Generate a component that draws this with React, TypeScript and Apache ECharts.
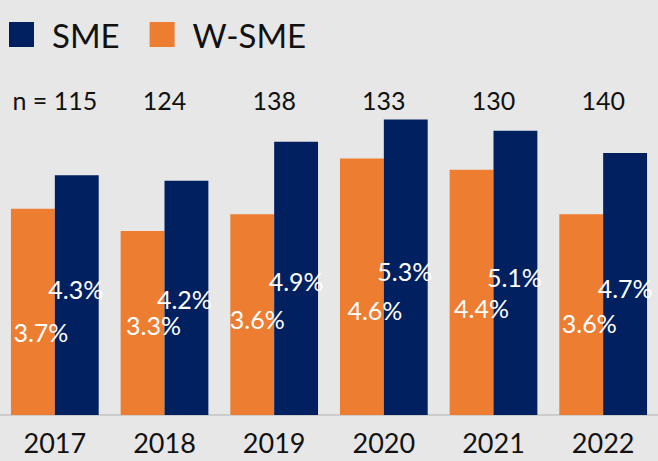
import React, { useEffect, useRef } from "react";
import * as echarts from "echarts";

const years = ["2017", "2018", "2019", "2020", "2021", "2022"];
const sampleSizes = ["n = 115", "124", "138", "133", "130", "140"];
const smeValues = [4.3, 4.2, 4.9, 5.3, 5.1, 4.7];
const wsmeValues = [3.7, 3.3, 3.6, 4.6, 4.4, 3.6];

// label offsets (styling) relative to bar centre
const smeLabelOffsets = [[-1, -6], [-2, 1], [0, 3], [-1, 4], [-1, 4], [0, 4]];
const wsmeLabelOffsets = [[8, 20], [11, 2], [5, 4], [13, 23], [10, 16], [8, 8]];

const FONT = "Lato, 'Open Sans', sans-serif";
const NAVY = "#002060";
const ORANGE = "#ED7D31";

export default function App() {
  const ref = useRef<HTMLDivElement>(null);
  useEffect(() => {
    if (!ref.current) return;
    const chart = echarts.init(ref.current, null, { renderer: "svg" });
    const labelBase = {
      show: true,
      position: "inside",
      color: "#ffffff",
      fontFamily: FONT,
      fontSize: 25,
      formatter: (p: any) => p.value.toFixed(1) + "%",
    };
    chart.setOption({
      animation: false,
      backgroundColor: "#e7e7e7",
      textStyle: { fontFamily: FONT },
      legend: {
        data: ["SME", "W-SME"],
        left: 9,
        top: 18,
        padding: 0,
        itemWidth: 25,
        itemHeight: 25,
        itemGap: 30,
        icon: "rect",
        textStyle: {
          fontFamily: FONT,
          fontSize: 33,
          color: "#111111",
          padding: [0, 0, 0, 13],
        },
      },
      grid: { left: -2.5, right: -5.5, top: 80.5, bottom: 46, containLabel: false },
      xAxis: [
        {
          type: "category",
          data: years,
          axisLine: { show: true, lineStyle: { color: "#cccccc", width: 2 } },
          axisTick: { show: false },
          axisLabel: {
            interval: 0,
            fontFamily: FONT,
            fontSize: 27,
            color: "#111111",
            margin: 14,
          },
        },
        {
          type: "category",
          data: sampleSizes,
          position: "top",
          offset: -40,
          axisLine: { show: false },
          axisTick: { show: false },
          axisLabel: {
            interval: 0,
            fontFamily: FONT,
            fontSize: 25,
            color: "#111111",
            margin: 8,
          },
        },
      ],
      yAxis: {
        type: "value",
        min: 0,
        max: 6,
        show: false,
        splitLine: { show: false },
      },
      series: [
        {
          name: "W-SME",
          type: "bar",
          barGap: "0%",
          barCategoryGap: "20%",
          itemStyle: { color: ORANGE },
          label: labelBase,
          data: wsmeValues.map((v, i) => ({
            value: v,
            label: { offset: wsmeLabelOffsets[i] },
          })),
        },
        {
          name: "SME",
          type: "bar",
          barGap: "0%",
          barCategoryGap: "20%",
          itemStyle: { color: NAVY },
          label: labelBase,
          data: smeValues.map((v, i) => ({
            value: v,
            label: { offset: smeLabelOffsets[i] },
          })),
        },
      ],
    });
    return () => chart.dispose();
  }, []);
  return (
    <div
      ref={ref}
      style={{ position: "absolute", left: 0, top: 0, width: 658, height: 461 }}
    />
  );
}
